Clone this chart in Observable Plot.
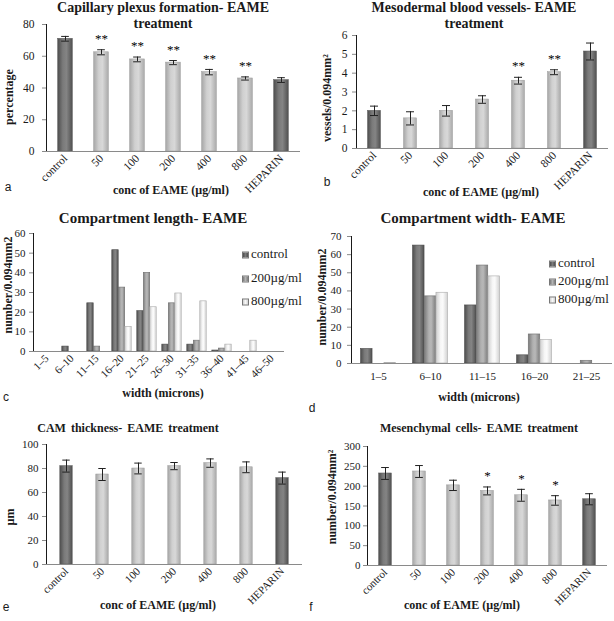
<!DOCTYPE html>
<html><head><meta charset="utf-8">
<script src="https://cdn.jsdelivr.net/npm/d3@7"></script>
<script src="https://cdn.jsdelivr.net/npm/@observablehq/plot@0.6"></script>
<style>
body{margin:0;background:#fff;}
#fig{position:relative;width:614px;height:621px;overflow:hidden;background:#fff;font-family:"Liberation Serif",serif;color:#1a1a1a;}
.panel{position:absolute;}
.panel svg{overflow:visible;}
.panel svg text{font-family:"Liberation Serif",serif;}
.t{position:absolute;white-space:nowrap;transform:translate(-50%,-50%);line-height:1;}
.panel g[aria-label*="axis"] path,.panel g[aria-label*="axis"] line{stroke:#8a8a8a;}
.lg{position:absolute;white-space:nowrap;font-size:13px;line-height:1;transform:translateY(-50%);}
.lg span{display:inline-block;width:5px;height:5px;margin-right:2px;vertical-align:middle;border:0.5px solid #777;}
</style></head><body>
<svg width="0" height="0" style="position:absolute"><defs>
<linearGradient id="gDark" x1="0" x2="1" y1="0" y2="0"><stop offset="0" stop-color="#4d4d4d"/><stop offset="0.35" stop-color="#7a7a7a"/><stop offset="0.6" stop-color="#848484"/><stop offset="1" stop-color="#505050"/></linearGradient>
<linearGradient id="gLight" x1="0" x2="1" y1="0" y2="0"><stop offset="0" stop-color="#a6a6a6"/><stop offset="0.35" stop-color="#d0d0d0"/><stop offset="0.6" stop-color="#d8d8d8"/><stop offset="1" stop-color="#aaaaaa"/></linearGradient>
<linearGradient id="gMid" x1="0" x2="1" y1="0" y2="0"><stop offset="0" stop-color="#7a7a7a"/><stop offset="0.4" stop-color="#b0b0b0"/><stop offset="0.6" stop-color="#b8b8b8"/><stop offset="1" stop-color="#7e7e7e"/></linearGradient>
<linearGradient id="gWhite" x1="0" x2="1" y1="0" y2="0"><stop offset="0" stop-color="#cfcfcf"/><stop offset="0.4" stop-color="#f6f6f6"/><stop offset="0.6" stop-color="#fbfbfb"/><stop offset="1" stop-color="#d2d2d2"/></linearGradient>
</defs></svg>
<div id="fig"></div>
<script>
// ---- data ----
const doseCats = ["control","50","100","200","400","800","HEPARIN"];
const capillaryMean = [71,62.5,58,56,50,46,45];
const capillaryErr = [1.5,1.6,1.5,1.3,1.7,1.0,1.5];
const capillaryStars = ["","**","**","**","**","**",""];
const vesselsMean = [2.0,1.6,2.0,2.6,3.6,4.05,5.15];
const vesselsErr = [0.25,0.35,0.28,0.2,0.18,0.13,0.45];
const vesselsStars = ["","","","","**","**",""];
const thicknessMean = [82,75,80,82,84.5,81,72];
const thicknessErr = [5,5,4.5,3,3.5,4.5,5];
const thicknessStars = ["","","","","","",""];
const mesenchymalMean = [232,237,202,188,177,164,167];
const mesenchymalErr = [15,15,13,10,15,12,14];
const mesenchymalStars = ["","","","*","*","*",""];

const lengthCats = ["1–5","6–10","11–15","16–20","21–25","26–30","31–35","36–40","41–45","46–50"];
const lengthControl = [0,2.5,24.5,51.5,20.5,3.5,3.5,0.5,0,0];
const length200 = [0,0,2.5,32.5,40,24.5,5.5,1.5,0,0];
const length800 = [0,0,0,12.5,22.5,29.5,25.5,3.5,5.5,0];

const widthCats = ["1–5","6–10","11–15","16–20","21–25"];
const widthControl = [8,65,32,4.5,0];
const width200 = [0,37,54,16,1.5];
const width800 = [0.3,39,48,13,0];

const seriesNames = ["control","200µg/ml","800µg/ml"];

const fig = document.getElementById("fig");

function text(str, cx, cy, css, rot) {
  const d = document.createElement("div");
  d.className = "t";
  d.textContent = str;
  d.style.left = cx + "px";
  d.style.top = cy + "px";
  if (rot) d.style.transform = "translate(-50%,-50%) rotate(" + rot + "deg)";
  Object.assign(d.style, css || {});
  fig.appendChild(d);
  return d;
}
function panel(svg, left, top) {
  const d = document.createElement("div");
  d.className = "panel";
  d.style.left = left + "px";
  d.style.top = top + "px";
  d.appendChild(svg);
  fig.appendChild(d);
}
const baseStyle = {fontFamily: "'Liberation Serif', serif", fontSize: "11px", color: "#1a1a1a", background: "transparent", overflow: "visible"};
const fmt = d => String(d);

function makeBars(cfg) {
  const data = doseCats.map((c, i) => ({cat: c, mean: cfg.mean[i], err: cfg.err[i], star: cfg.stars[i]}));
  const step = (cfg.width - cfg.ml - cfg.mr) / doseCats.length;
  const bi = (step - cfg.barW) / 2;
  const ci = (step - 8) / 2;
  const isRef = d => d.cat === "control" || d.cat === "HEPARIN";
  return Plot.plot({
    width: cfg.width, height: cfg.height,
    marginTop: cfg.mt, marginBottom: cfg.mb, marginLeft: cfg.ml, marginRight: cfg.mr,
    style: Object.assign({}, baseStyle, {fontSize: cfg.fs || "11px"}),
    x: {domain: doseCats, padding: 0, label: null, tickSize: 0, tickRotate: -45, tickPadding: cfg.xPad},
    y: {domain: cfg.yDomain, ticks: cfg.yTicks, tickFormat: fmt, label: null, tickSize: 4, tickPadding: cfg.yPad, line: true},
    marks: [
      Plot.barY(data.filter(isRef), {x: "cat", y: "mean", fill: "url(#gDark)", stroke: "#5a5a5a", strokeWidth: 0.5, insetLeft: bi, insetRight: bi}),
      Plot.barY(data.filter(d => !isRef(d)), {x: "cat", y: "mean", fill: "url(#gLight)", stroke: "#9a9a9a", strokeWidth: 0.5, insetLeft: bi, insetRight: bi}),
      Plot.ruleY([0], {stroke: "#8a8a8a"}),
      Plot.ruleX(data, {x: "cat", y1: d => d.mean - d.err, y2: d => d.mean + d.err, stroke: "#222", strokeWidth: 1}),
      Plot.tickY(data, {x: "cat", y: d => d.mean + d.err, insetLeft: ci, insetRight: ci, stroke: "#222", strokeWidth: 1}),
      Plot.tickY(data, {x: "cat", y: d => d.mean - d.err, insetLeft: ci, insetRight: ci, stroke: "#222", strokeWidth: 1}),
      Plot.text(data.filter(d => d.star), {x: "cat", y: d => d.mean + d.err, text: "star", dy: -11, fontSize: 13, fill: "black"})
    ]
  });
}

function makeGrouped(cfg) {
  const cats = cfg.cats;
  const step = (cfg.width - cfg.ml - cfg.mr) / cats.length;
  const bw = cfg.barW, off = (step - 3 * bw) / 2;
  const series = [
    {vals: cfg.s0, fill: "url(#gDark)", stroke: "#4a4a4a"},
    {vals: cfg.s1, fill: "url(#gMid)", stroke: "#6e6e6e"},
    {vals: cfg.s2, fill: "url(#gWhite)", stroke: "#a8a8a8"}
  ];
  return Plot.plot({
    width: cfg.width, height: cfg.height,
    marginTop: cfg.mt, marginBottom: cfg.mb, marginLeft: cfg.ml, marginRight: cfg.mr,
    style: baseStyle,
    x: {domain: cats, padding: 0, label: null, tickSize: 0, tickRotate: cfg.rot, tickPadding: cfg.xPad},
    y: {domain: cfg.yDomain, ticks: cfg.yTicks, tickFormat: fmt, label: null, tickSize: 4, tickPadding: cfg.yPad, line: true},
    marks: [
      ...series.map((s, i) => Plot.barY(cats.map((c, j) => ({cat: c, v: s.vals[j]})), {
        x: "cat", y: "v", fill: s.fill, stroke: s.stroke, strokeWidth: 0.6,
        insetLeft: off + i * bw, insetRight: step - off - (i + 1) * bw
      })),
      Plot.ruleY([0], {stroke: "#8a8a8a"})
    ]
  });
}

function legend(x, ys) {
  const fills = ["linear-gradient(90deg,#4d4d4d,#7a7a7a,#505050)", "linear-gradient(90deg,#7a7a7a,#b4b4b4,#7e7e7e)", "linear-gradient(90deg,#cfcfcf,#f8f8f8,#d2d2d2)"];
  seriesNames.forEach((n, i) => {
    const d = document.createElement("div");
    d.className = "lg";
    d.style.left = x + "px";
    d.style.top = ys[i] + "px";
    const s = document.createElement("span");
    s.style.background = fills[i];
    d.appendChild(s);
    d.appendChild(document.createTextNode(n));
    fig.appendChild(d);
  });
}

// ---- panel a ----
panel(makeBars({width: 307, height: 205, mt: 24, mb: 54, ml: 46, mr: 7, barW: 15,
  mean: capillaryMean, err: capillaryErr, stars: capillaryStars,
  yDomain: [0, 80], yTicks: [0, 20, 40, 60, 80], xPad: 5, yPad: 8, fs: "11.5px"}), 0, 0);
// ---- panel b ----
panel(makeBars({width: 307, height: 205, mt: 35, mb: 57, ml: 49, mr: 6, barW: 13,
  mean: vesselsMean, err: vesselsErr, stars: vesselsStars,
  yDomain: [0, 6], yTicks: [0, 1, 2, 3, 4, 5, 6], xPad: 5, yPad: 5, fs: "11.5px"}), 307, 0);
// ---- panel c ----
panel(makeGrouped({width: 307, height: 200, mt: 28, mb: 54, ml: 33, mr: 23, barW: 6.5,
  cats: lengthCats, s0: lengthControl, s1: length200, s2: length800,
  yDomain: [0, 60], yTicks: [0, 10, 20, 30, 40, 50, 60], rot: -45, xPad: 5, yPad: 4}), 0, 205);
// ---- panel d ----
panel(makeGrouped({width: 307, height: 200, mt: 31, mb: 42, ml: 44, mr: 2, barW: 11.7,
  cats: widthCats, s0: widthControl, s1: width200, s2: width800,
  yDomain: [0, 70], yTicks: [0, 10, 20, 30, 40, 50, 60, 70], rot: 0, xPad: 9, yPad: 6}), 307, 205);
// ---- panel e ----
panel(makeBars({width: 307, height: 211, mt: 34, mb: 57, ml: 46, mr: 5, barW: 13,
  mean: thicknessMean, err: thicknessErr, stars: thicknessStars,
  yDomain: [0, 100], yTicks: [0, 20, 40, 60, 80, 100], xPad: 5, yPad: 4, fs: "11px"}), 0, 410);
// ---- panel f ----
panel(makeBars({width: 307, height: 211, mt: 36, mb: 56, ml: 60, mr: 7, barW: 13,
  mean: mesenchymalMean, err: mesenchymalErr, stars: mesenchymalStars,
  yDomain: [0, 300], yTicks: [0, 50, 100, 150, 200, 250, 300], xPad: 5, yPad: 3, fs: "11px"}), 307, 410);

// ---- titles ----
const tBig = {fontWeight: "bold", fontSize: "14px"};
const tMid = {fontWeight: "bold", fontSize: "15px"};
const tSmall = {fontWeight: "bold", fontSize: "12px", wordSpacing: "2px"};
text("Capillary plexus formation- EAME", 163, 8, tBig);
text("treatment", 163, 24, tBig);
text("Mesodermal blood vessels- EAME", 474, 8, tBig);
text("treatment", 474, 24, tBig);
text("Compartment length- EAME", 153, 218, tMid);
text("Compartment width- EAME", 473, 218, tMid);
text("CAM thickness- EAME treatment", 128, 428, tSmall);
text("Mesenchymal cells- EAME treatment", 479, 428, tSmall);

// ---- axis titles ----
const ax = {fontWeight: "bold", fontSize: "12px"};
text("conc of EAME (µg/ml)", 171, 190, ax);
text("conc of EAME (µg/ml)", 481, 192, ax);
text("width (microns)", 163, 393, ax);
text("width (microns)", 479, 397, ax);
text("conc of EAME (µg/ml)", 158, 605, ax);
text("conc of EAME (µg/ml)", 462, 605, ax);
text("percentage", 9, 97, ax, -90);
text("vessels/0.094mm²", 327, 98, ax, -90);
text("number/0.094mm2", 8, 285, ax, -90);
text("number/0.094mm2", 322, 297, ax, -90);
text("µm", 10, 517, ax, -90);
text("number/0.094mm²", 332, 497, ax, -90);

// ---- panel letters ----
const lt = {fontFamily: "Liberation Sans, sans-serif", fontSize: "12px"};
text("a", 8, 187, lt);
text("b", 327, 182, lt);
text("c", 6, 397, lt);
text("d", 312, 408, lt);
text("e", 6, 607, lt);
text("f", 311, 607, lt);

// ---- legends ----
legend(242, [253, 277, 300]);
legend(549, [262, 280, 298]);
</script></body></html>
